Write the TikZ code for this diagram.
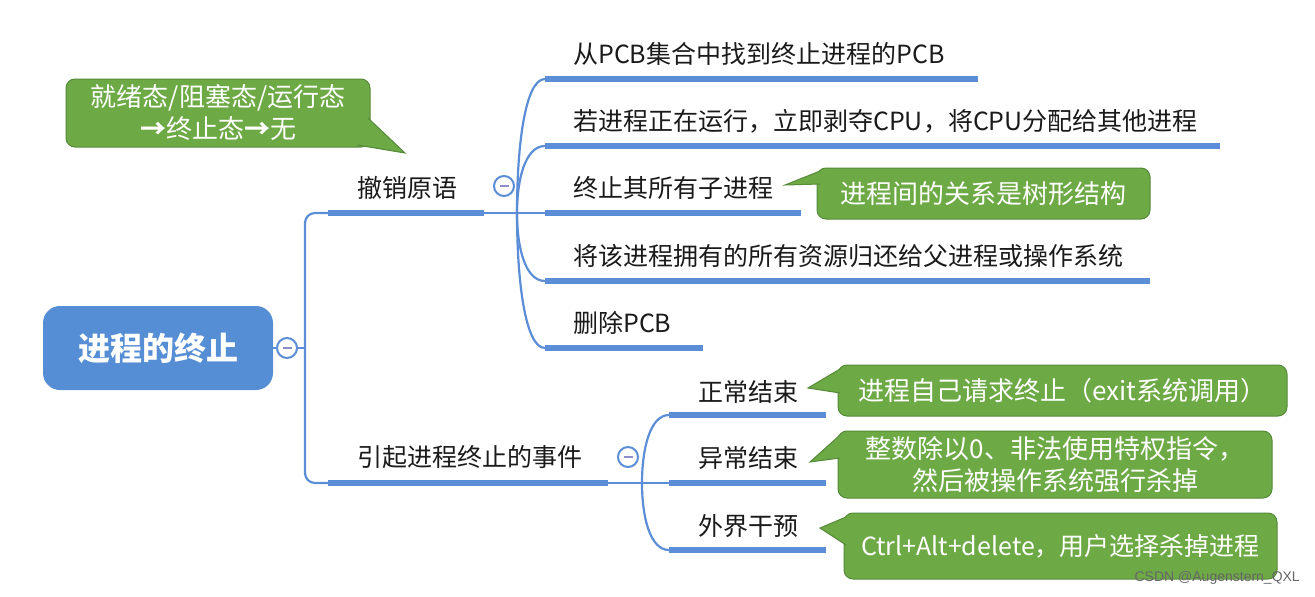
\documentclass[tikz,border=0pt]{standalone}
\usepackage{fontspec}
\setmainfont{Noto Sans CJK SC}
\newfontfamily\wmfont{Liberation Sans}
\definecolor{lineblue}{HTML}{5B8ED6}
\definecolor{rootblue}{HTML}{558ED5}
\definecolor{calfill}{HTML}{6DAA46}
\definecolor{caldraw}{HTML}{558A38}
\definecolor{dashc}{HTML}{8E8EC8}
\definecolor{txt}{HTML}{1A1A1A}
\begin{document}
\begin{tikzpicture}[x=1pt,y=-1pt,
  thinline/.style={draw=lineblue,line width=2.2pt},
  ubar/.style={draw=lineblue,line width=5.5pt},
  lbl/.style={anchor=west,inner sep=0pt,text=txt,font=\fontsize{25}{30}\selectfont},
  togglec/.style={circle,draw=lineblue,line width=2pt,fill=white,minimum size=20pt,inner sep=0pt,
    path picture={\draw[dashc,line width=1.6pt] ([xshift=-4.5pt]path picture bounding box.center) -- ([xshift=4.5pt]path picture bounding box.center);}},
  calbox/.style={rounded corners=9pt,fill=calfill,draw=caldraw,line width=1pt,text=white,
    font=\fontsize{26}{32}\selectfont,align=center,inner sep=0pt},
  calptr/.style={fill=calfill},
  caledge/.style={draw=caldraw,line width=1pt},
]
\useasboundingbox (0,0) rectangle (1315,597);

% root and toggles
\node[fill=rootblue,rounded corners=17pt,minimum width=230pt,minimum height=84pt,inner sep=0pt,
  text=white,font=\fontsize{32}{36}\selectfont\bfseries] (root) at (158,348) {进程的终止};
\node[togglec] (c0) at (287,348) {};
\node[togglec] (c1) at (504,186) {};
\node[togglec] (c2) at (628,457) {};

% coordinates
\coordinate (j0) at (305,348);
\coordinate (b1s) at (328,213); \coordinate (b1e) at (484,213); \coordinate (B1) at (517,213);
\coordinate (b2s) at (328,483); \coordinate (b2e) at (608,483); \coordinate (B2) at (642,483);
\coordinate (k1s) at (545,79);  \coordinate (k1e) at (978,79);
\coordinate (k2s) at (545,146); \coordinate (k2e) at (1220,146);
\coordinate (k3s) at (545,213); \coordinate (k3e) at (801,213);
\coordinate (k4s) at (545,281); \coordinate (k4e) at (1150,281);
\coordinate (k5s) at (545,348); \coordinate (k5e) at (703,348);
\coordinate (m1s) at (669,415); \coordinate (m1e) at (826,415);
\coordinate (m2s) at (669,483); \coordinate (m2e) at (826,483);
\coordinate (m3s) at (669,550); \coordinate (m3e) at (826,550);

% main connectors
\draw[thinline] (root.east) -- (c0.west);
\draw[thinline] (c0.east) -- (j0);
\draw[thinline,rounded corners=10pt] (b1s) -- (305,213) -- (305,483) -- (b2s);
\draw[ubar] (b1s) -- (b1e);
\draw[thinline] (b1e) -- (B1);
\draw[ubar] (b2s) -- (b2e);
\draw[thinline] (b2e) -- (B2);

% branch 1 children
\draw[thinline] (B1) .. controls (517,146) and (525,79) .. (k1s);
\draw[thinline] (B1) .. controls (517,180) and (525,146) .. (k2s);
\draw[thinline] (B1) -- (k3s);
\draw[thinline] (B1) .. controls (517,247) and (525,281) .. (k4s);
\draw[thinline] (B1) .. controls (517,280) and (525,348) .. (k5s);
\draw[ubar] (k1s) -- (k1e);
\draw[ubar] (k2s) -- (k2e);
\draw[ubar] (k3s) -- (k3e);
\draw[ubar] (k4s) -- (k4e);
\draw[ubar] (k5s) -- (k5e);

% branch 2 children
\draw[thinline] (B2) .. controls (642,449) and (650,415) .. (m1s);
\draw[thinline] (B2) -- (m2s);
\draw[thinline] (B2) .. controls (642,517) and (650,550) .. (m3s);
\draw[ubar] (m1s) -- (m1e);
\draw[ubar] (m2s) -- (m2e);
\draw[ubar] (m3s) -- (m3e);

% labels
\node[lbl] (t0) at (357,188) {撤销原语};
\node[lbl] (t1) at (573,54) {从PCB集合中找到终止进程的PCB};
\node[lbl] (t2) at (573,121) {若进程正在运行，立即剥夺CPU，将CPU分配给其他进程};
\node[lbl] (t3) at (573,188) {终止其所有子进程};
\node[lbl] (t4) at (573,256) {将该进程拥有的所有资源归还给父进程或操作系统};
\node[lbl] (t5) at (573,323) {删除PCB};
\node[lbl] (u0) at (357,457) {引起进程终止的事件};
\node[lbl] (u1) at (698,392) {正常结束};
\node[lbl] (u2) at (698,458) {异常结束};
\node[lbl] (u3) at (698,526) {外界干预};

% callouts
\node[calbox,minimum width=304pt,minimum height=68pt] (cA) at (218,113) {就绪态/阻塞态/运行态\\{\bfseries →}终止态{\bfseries →}无};
\fill[calptr] (368,118) -- (405,153) -- (357,145) -- cycle;
\draw[caledge] (368,118) -- (405,153) -- (357,145);

\node[calbox,minimum width=333pt,minimum height=51pt] (cB) at (983.5,193.5) {进程间的关系是树形结构};
\fill[calptr] (820,171) -- (785,185) -- (820,184) -- cycle;
\draw[caledge] (820,171) -- (785,185) -- (820,184);

\node[calbox,minimum width=449pt,minimum height=51pt] (cC) at (1062.5,390.5) {进程自己请求终止（exit系统调用）};
\fill[calptr] (840,369) -- (808,388) -- (840,393) -- cycle;
\draw[caledge] (840,369) -- (808,388) -- (840,393);

\node[calbox,minimum width=434pt,minimum height=67pt] (cD) at (1055,464.5) {整数除以0、非法使用特权指令，\\然后被操作系统强行杀掉};
\fill[calptr] (840,435) -- (810,462) -- (840,458) -- cycle;
\draw[caledge] (840,435) -- (810,462) -- (840,458);

\node[calbox,minimum width=433pt,minimum height=66pt,font=\fontsize{25}{32}\selectfont] (cE) at (1060.5,546) {Ctrl+Alt+delete，用户选择杀掉进程};
\fill[calptr] (846,517) -- (820,528) -- (846,545) -- cycle;
\draw[caledge] (846,517) -- (820,528) -- (846,545);

% watermark
\node[anchor=east,inner sep=0pt,text=black!60,font=\wmfont\fontsize{14}{16}\selectfont] (wm) at (1300,578) {CSDN @Augenstern\_QXL};
\end{tikzpicture}
\end{document}
